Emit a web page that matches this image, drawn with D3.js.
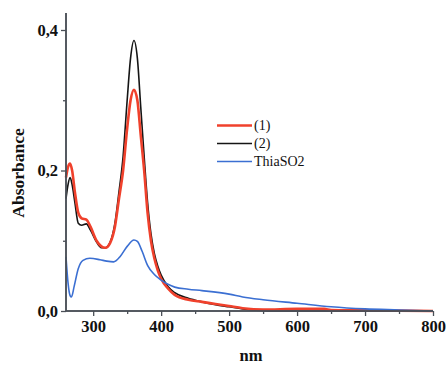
<!DOCTYPE html>
<html><head><meta charset="utf-8">
<script src="https://cdn.jsdelivr.net/npm/d3@7"></script>
<style>body{margin:0;background:#fff}svg{display:block}</style>
</head><body>
<svg id="c" width="447" height="367"></svg>
<script>
// wavelength (nm) and absorbance values
const nm1 = [260,263,266,269,273,278,283,290,296,305,312,318,325,332,338,344,350,355,360,365,370,375,380,385,390,395,400,410,420,440,460,480,500,520,550,600,640,650,700,800];
const abs1 = [0.19,0.205,0.21,0.2,0.17,0.14,0.132,0.13,0.12,0.1,0.092,0.09,0.097,0.12,0.16,0.2,0.26,0.3,0.315,0.3,0.25,0.2,0.14,0.1,0.075,0.058,0.046,0.032,0.023,0.016,0.013,0.01,0.007,0.004,0.002,0.003,0.003,0.0015,0.001,0];
const nm2 = [260,263,266,269,273,278,283,290,296,305,312,318,325,332,338,344,350,355,360,365,370,375,380,385,390,395,400,410,420,440,460,480,500,520,540,560,800];
const abs2 = [0.16,0.18,0.19,0.18,0.155,0.125,0.122,0.124,0.115,0.098,0.09,0.09,0.098,0.125,0.17,0.22,0.3,0.36,0.385,0.36,0.29,0.22,0.155,0.11,0.082,0.064,0.051,0.035,0.026,0.018,0.013,0.009,0.006,0.003,0.001,0,0];
const nm3 = [260,263,266,268,272,278,285,295,310,320,330,340,350,360,365,372,380,390,400,410,420,440,460,500,520,550,600,650,700,750,800];
const abs3 = [0.077,0.04,0.022,0.02,0.035,0.06,0.072,0.075,0.073,0.071,0.07,0.078,0.092,0.101,0.099,0.085,0.065,0.052,0.044,0.038,0.034,0.031,0.029,0.024,0.02,0.016,0.011,0.006,0.003,0.0015,0];
const seriesNames = ["(1)","(2)","ThiaSO2"];
const xMajor = [300,400,500,600,700,800];
const xMinor = [350,450,550,650,750];
const yMajor = [0,0.2,0.4];
const yMinor = [0.1,0.3];

const svg = d3.select("#c");
const x = d3.scaleLinear().domain([260,800]).range([66,433]);
const y = d3.scaleLinear().domain([0,0.4]).range([311,30]);
const font = "'Liberation Serif','Times New Roman',serif";
const axisCol = "#4a4f57";

const line = d3.line().x(d=>x(d[0])).y(d=>y(d[1])).curve(d3.curveMonotoneX);
const s1 = nm1.map((v,i)=>[v,abs1[i]]);
const s2 = nm2.map((v,i)=>[v,abs2[i]]);
const s3 = nm3.map((v,i)=>[v,abs3[i]]);

svg.append("path").attr("d",line(s2)).attr("fill","none").attr("stroke","#151515").attr("stroke-width",1.6);
svg.append("path").attr("d",line(s1)).attr("fill","none").attr("stroke","#f0412c").attr("stroke-width",2.6);
svg.append("path").attr("d",line(s3)).attr("fill","none").attr("stroke","#3b6fd2").attr("stroke-width",1.6);

// x axis
const gx = svg.append("g").attr("transform","translate(0,311)");
gx.call(d3.axisBottom(x).tickValues(xMajor).tickSize(5).tickFormat(d3.format("d")));
gx.append("g").call(d3.axisBottom(x).tickValues(xMinor).tickSize(3).tickFormat(""));
gx.selectAll("path.domain").attr("d","M66,0H433").attr("stroke",axisCol).attr("stroke-width",1.5);
gx.selectAll("line").attr("stroke",axisCol).attr("stroke-width",1.3);
gx.selectAll("text").attr("font-family",font).attr("font-weight","bold").attr("font-size",16.5).attr("fill","#111").attr("y",9);

// y axis
const gy = svg.append("g").attr("transform","translate(66,0)");
gy.call(d3.axisLeft(y).tickValues(yMajor).tickSize(5).tickFormat(d=>d3.format(".1f")(d).replace(".",",")));
gy.append("g").call(d3.axisLeft(y).tickValues(yMinor).tickSize(3).tickFormat(""));
gy.selectAll("path.domain").attr("d","M0,13V311").attr("stroke",axisCol).attr("stroke-width",1.5);
gy.selectAll("line").attr("stroke",axisCol).attr("stroke-width",1.3);
gy.selectAll("text").attr("font-family",font).attr("font-weight","bold").attr("font-size",16.5).attr("fill","#111").attr("x",-8);

svg.append("text").attr("transform","translate(24,173) rotate(-90)").attr("text-anchor","middle")
  .attr("font-family",font).attr("font-weight","bold").attr("font-size",17.5).attr("fill","#111").text("Absorbance");
svg.append("text").attr("x",251).attr("y",361).attr("text-anchor","middle")
  .attr("font-family",font).attr("font-weight","bold").attr("font-size",16.5).attr("fill","#111").text("nm");

// legend
const cols = ["#f0412c","#151515","#3b6fd2"];
const lw = [2.6,1.6,1.6];
const lg = svg.append("g");
seriesNames.forEach((n,i)=>{
  const yy = 125.5 + i*18;
  lg.append("line").attr("x1",217).attr("x2",252).attr("y1",yy).attr("y2",yy).attr("stroke",cols[i]).attr("stroke-width",lw[i]);
  lg.append("text").attr("x",254).attr("y",yy+4.5).attr("font-family",font).attr("font-size",14).attr("fill","#111").text(n);
});
</script>
</body></html>
